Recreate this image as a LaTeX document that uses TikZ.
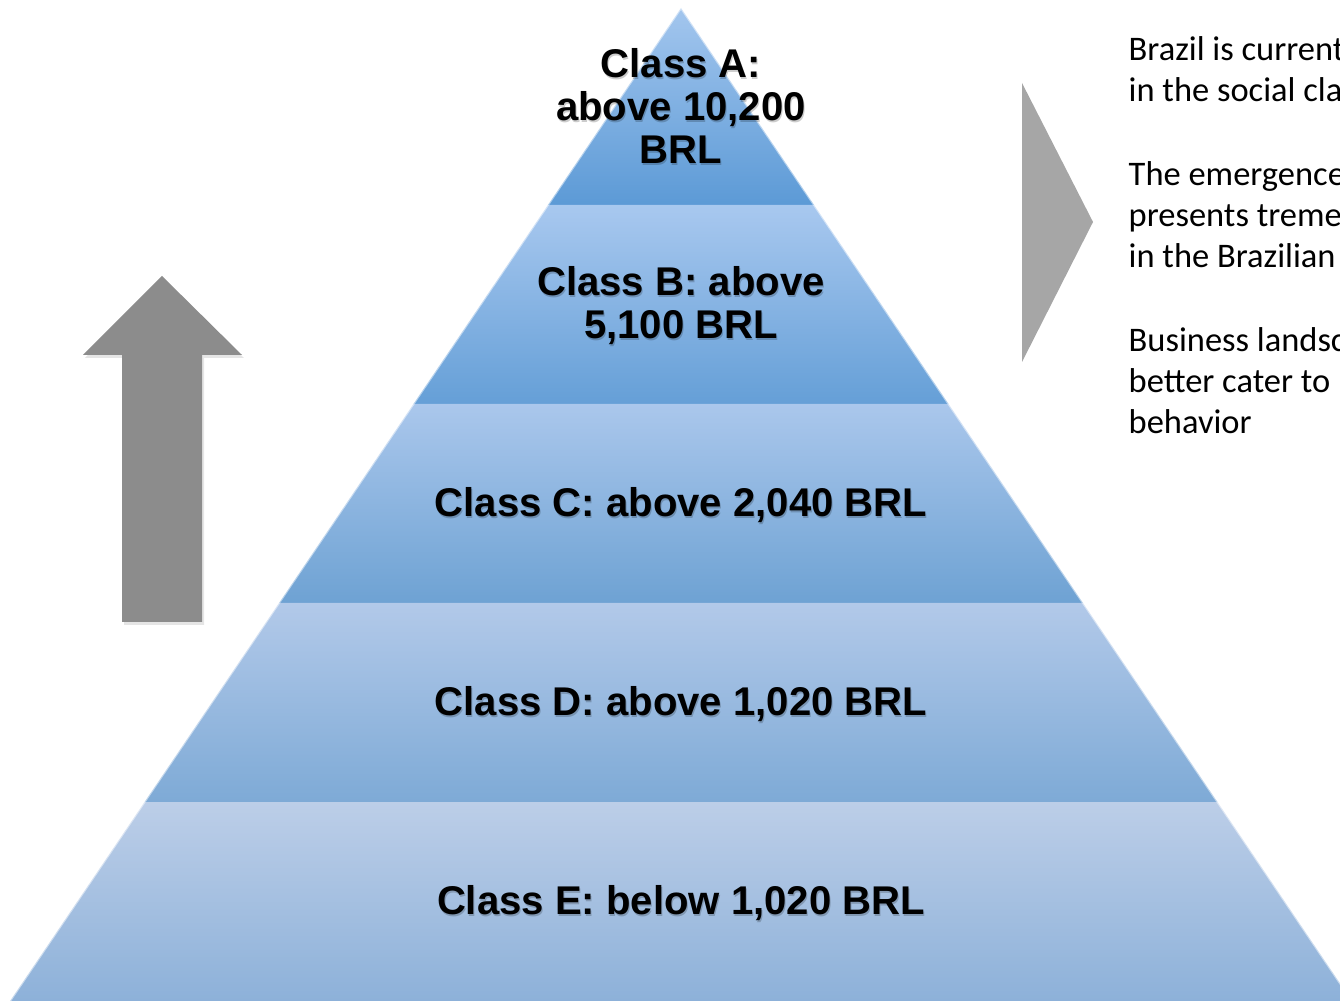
\documentclass[tikz,border=0pt]{standalone}
\usepackage{fontspec}
\setmainfont{Liberation Sans}
\newfontfamily\notefont{Carlito}
\usepackage{tikz}
\definecolor{bandATop}{HTML}{A3C6EE}
\definecolor{bandABot}{HTML}{5C9AD6}
\definecolor{bandBTop}{HTML}{A8C8EF}
\definecolor{bandBBot}{HTML}{659FD7}
\definecolor{bandCTop}{HTML}{AAC7EC}
\definecolor{bandCBot}{HTML}{6EA2D3}
\definecolor{bandDTop}{HTML}{B2C9E9}
\definecolor{bandDBot}{HTML}{7EAAD6}
\definecolor{bandETop}{HTML}{BCCEE8}
\definecolor{bandEBot}{HTML}{8DB1D9}
\definecolor{arrowGray}{HTML}{8C8C8C}
\definecolor{chevronGray}{HTML}{A6A6A6}

\begin{document}
\begin{tikzpicture}[x=0.01cm, y=-0.01cm,
    classLabel/.style={font=\bfseries\fontsize{11.4}{12.2}\selectfont, align=center, inner sep=0pt},
    labelShadow/.style={classLabel, text=black, opacity=0.2}]
    \useasboundingbox (0,0) rectangle (1340,1001);
    \clip (0,0) rectangle (1340,1001);

    % pyramid bands, top to bottom
    \shade[top color=bandATop, bottom color=bandABot] (681,8) -- (814.1,205) -- (547.9,205) -- cycle;
    \shade[top color=bandBTop, bottom color=bandBBot] (547.9,205) -- (814.1,205) -- (948.6,404) -- (413.4,404) -- cycle;
    \shade[top color=bandCTop, bottom color=bandCBot] (413.4,404) -- (948.6,404) -- (1083,603) -- (279,603) -- cycle;
    \shade[top color=bandDTop, bottom color=bandDBot] (279,603) -- (1083,603) -- (1217.5,802) -- (144.5,802) -- cycle;
    \shade[top color=bandETop, bottom color=bandEBot] (144.5,802) -- (1217.5,802) -- (1352,1001) -- (10,1001) -- cycle;
    \draw[white, opacity=0.5, line width=0.6pt] (10,1001) -- (681,8) -- (1352,1001);

    % class labels with a soft drop shadow
    \node[labelShadow] (classAshadow) at (682,108) {Class A:\\above 10,200\\BRL};
    \node[classLabel] (classA) at (681,106) {Class A:\\above 10,200\\BRL};
    \node[labelShadow] (classBshadow) at (682,308) {Class B: above\\5,100 BRL};
    \node[classLabel] (classB) at (681,306) {Class B: above\\5,100 BRL};
    \node[labelShadow] (classCshadow) at (682,507) {Class C: above 2,040 BRL};
    \node[classLabel] (classC) at (681,505) {Class C: above 2,040 BRL};
    \node[labelShadow] (classDshadow) at (682,706) {Class D: above 1,020 BRL};
    \node[classLabel] (classD) at (681,704) {Class D: above 1,020 BRL};
    \node[labelShadow] (classEshadow) at (682,905) {Class E: below 1,020 BRL};
    \node[classLabel] (classE) at (681,903) {Class E: below 1,020 BRL};

    % upward mobility arrow
    \fill[black, opacity=0.1] (163,279) -- (244,358) -- (204,358) -- (204,625) -- (124,625) -- (124,358) -- (85,358) -- cycle;
    \fill[arrowGray] (162,276) -- (242,355) -- (202,355) -- (202,622) -- (122,622) -- (122,355) -- (83,355) -- cycle;

    % chevron pointing to the notes
    \fill[chevronGray] (1022,83) -- (1093,222) -- (1022,362) -- cycle;

    \node[anchor=north west, inner sep=0pt, align=left,
          font=\notefont\fontsize{9.8}{11.6}\selectfont] (notes) at (1128,36)
        {Brazil is current\\in the social cla\\[12.4pt]The emergence\\presents treme\\in the Brazilian\\[12.4pt]Business landsc\\better cater to\\behavior};
\end{tikzpicture}
\end{document}
